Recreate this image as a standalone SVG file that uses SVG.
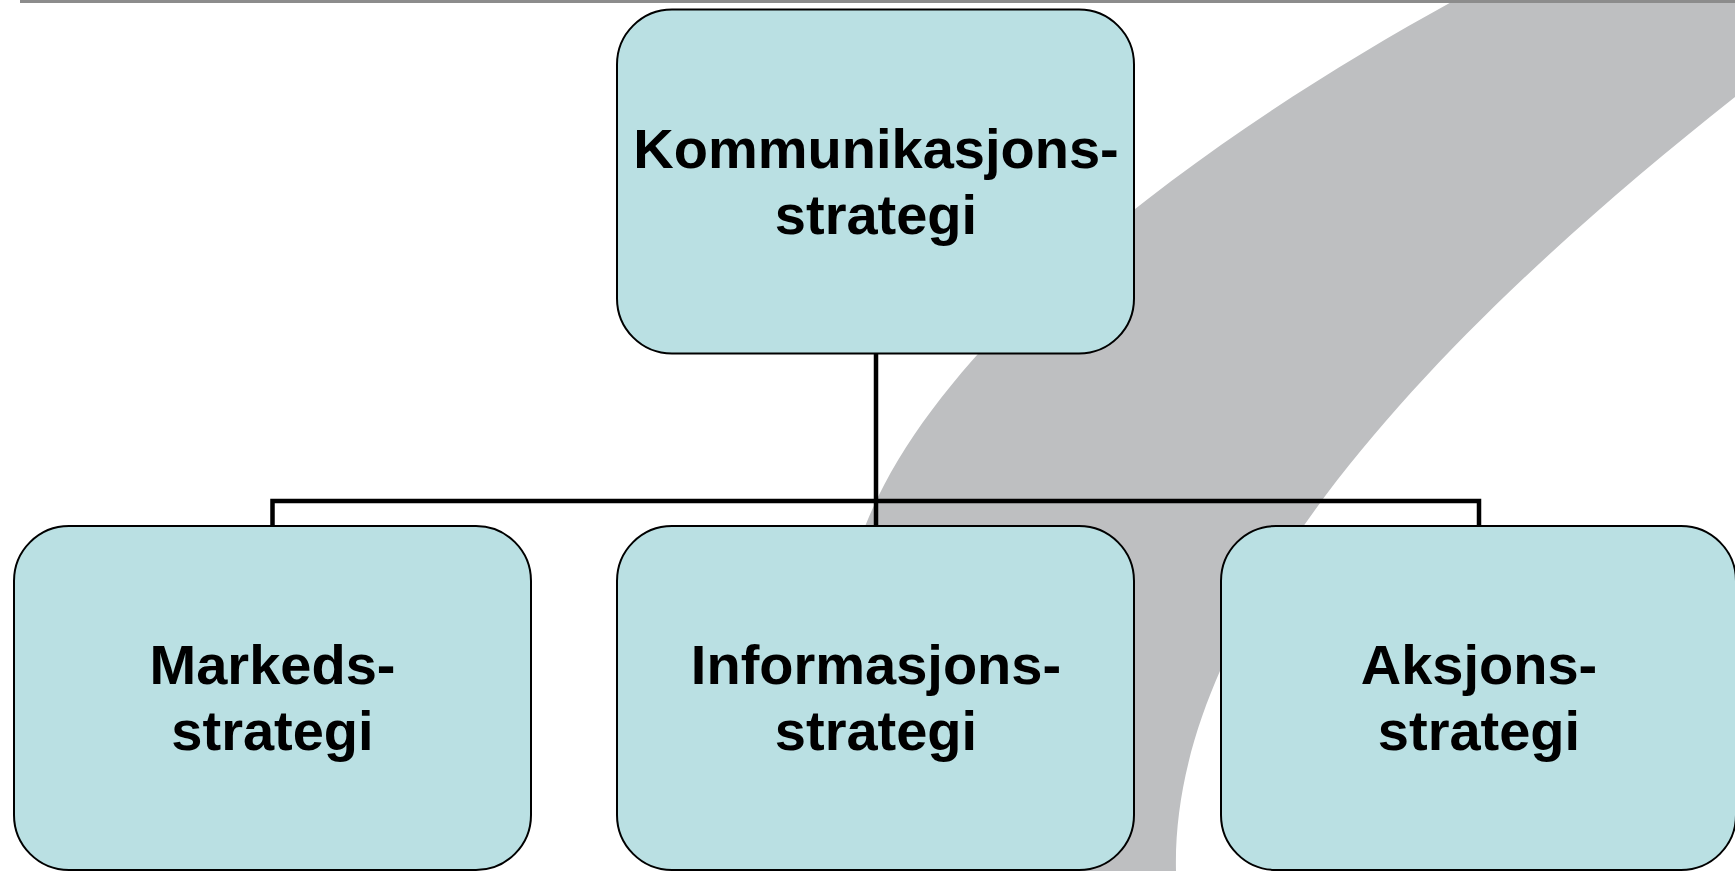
<svg xmlns="http://www.w3.org/2000/svg" width="1735" height="871" viewBox="0 0 1735 871">
<style>
.box{fill:#BAE0E3;stroke:#000;stroke-width:2}
.lbl{font-family:"Liberation Sans",Arial,sans-serif;font-weight:bold;font-size:56px;fill:#000;text-anchor:middle}
.conn{fill:none;stroke:#000;stroke-width:4.5;stroke-linejoin:miter}
</style>
<rect x="0" y="0" width="1735" height="871" fill="#fff"/>
<path id="band" d="M1455,0 L1735,0 L1735,97 C1440,330 1170,610 1176,871 L790,871 C792,740 810,630 860,540 C930,340 1200,140 1455,0 Z" fill="#BEBFC1"/>
<rect x="20" y="0" width="1715" height="3" fill="#8C8C8C"/>
<g id="connectors">
<path class="conn" d="M876,354 L876,526"/>
<path class="conn" d="M272.5,526 L272.5,501 L1479,501 L1479,526"/>
</g>
<g id="n-kommunikasjon">
<rect class="box" x="617" y="9.5" width="517" height="344" rx="55" ry="55"/>
<text class="lbl" x="876" y="168">Kommunikasjons-</text>
<text class="lbl" x="876" y="234">strategi</text>
</g>
<g id="n-markeds">
<rect class="box" x="14" y="526" width="517" height="344" rx="55" ry="55"/>
<text class="lbl" x="272.5" y="684">Markeds-</text>
<text class="lbl" x="272.5" y="750">strategi</text>
</g>
<g id="n-informasjons">
<rect class="box" x="617" y="526" width="517" height="344" rx="55" ry="55"/>
<text class="lbl" x="876" y="684">Informasjons-</text>
<text class="lbl" x="876" y="750">strategi</text>
</g>
<g id="n-aksjons">
<rect class="box" x="1221" y="526" width="515" height="344" rx="55" ry="55"/>
<text class="lbl" x="1479" y="684">Aksjons-</text>
<text class="lbl" x="1479" y="750">strategi</text>
</g>
</svg>
